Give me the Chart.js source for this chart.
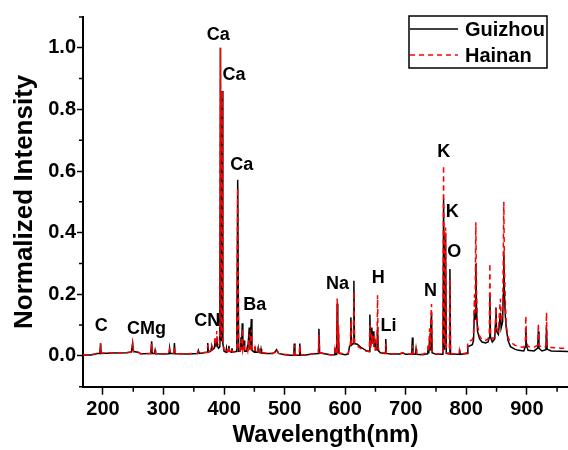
<!DOCTYPE html>
<html>
<head>
<meta charset="utf-8">
<script src="https://cdn.jsdelivr.net/npm/chart.js@4.4.1/dist/chart.umd.min.js"></script>
<style>
  html, body { margin: 0; padding: 0; background: #fff; }
  #wrap { width: 568px; height: 450px; }
</style>
</head>
<body>
<div id="wrap"><canvas id="myChart"></canvas></div>
<script>
// wavelength (nm) and normalized intensity
const wavelengths = [
  167, 180, 186, 190, 195, 196, 197, 215, 240, 247, 249, 250.5, 258, 262,
  279, 280.4, 281.5, 285, 286, 287, 300, 309, 310, 311, 317, 318, 319, 340,
  356, 357.5, 359, 372, 373, 374, 378, 379.5, 381, 384, 385.5, 386.5, 388, 389.5, 391, 393,
  394, 395, 396, 397, 398, 400, 403, 404, 405, 407, 408, 409, 412, 413, 414,
  421, 422.5, 424, 427, 428, 429, 430, 431, 433, 434, 437, 438, 439, 441.6, 442.6,
  445, 446, 450, 451, 452, 455.5, 456.5, 457.5, 460, 461, 462, 468, 480, 484, 486.7, 490,
  500, 510, 515, 516, 517, 524, 525, 526, 535, 545, 550, 555.5, 556.6, 557.8,
  575, 582, 583, 584, 586, 586.8, 587.8, 588.8, 589.8, 600, 605, 607, 608.5,
  609.4, 610.4, 613.5, 614.4, 615.4, 620, 626, 634, 639.8, 640.8, 641.8, 643, 644, 645,
  646.4, 647.4, 649, 650, 652.5, 653.5, 654.5, 658, 666, 667, 668, 675, 690, 695, 700,
  710, 711, 712, 716, 717, 718, 728, 733, 736, 737, 738, 739.5, 740.5, 741.5, 742.6, 743.6,
  750, 761.5, 762.5, 764, 765.8, 767, 772, 773, 774, 780, 788, 789, 790,
  801.5, 802.6, 806, 810, 812, 813.5, 814.5, 815.8, 817, 818.5, 822, 826, 832, 836,
  838, 839, 840, 843, 847, 848, 849, 850, 853, 855, 856.4, 857.5, 860, 861, 862, 863,
  864.5, 866, 869, 873, 880, 886, 895, 897.5, 898.4, 899.4, 902, 912, 918, 919, 920,
  925, 931.5, 932.5, 933.5, 940, 955, 968
];
const guizhou = [
  0.003, 0.003, 0.005, 0.008, 0.008, 0.040, 0.008, 0.009, 0.010, 0.013, 0.040, 0.014, 0.012, 0.007,
  0.008, 0.047, 0.008, 0.008, 0.018, 0.007, 0.006, 0.007, 0.025, 0.008, 0.008, 0.042, 0.007, 0.006,
  0.008, 0.018, 0.008, 0.012, 0.042, 0.012, 0.015, 0.030, 0.020, 0.025, 0.055, 0.030, 0.050, 0.030, 0.025, 0.030,
  1.000, 0.050, 0.060, 0.860, 0.040, 0.015, 0.012, 0.025, 0.012, 0.015, 0.033, 0.015, 0.012, 0.025, 0.012,
  0.015, 0.572, 0.015, 0.016, 0.060, 0.020, 0.106, 0.020, 0.050, 0.015, 0.015, 0.025, 0.015, 0.092, 0.020,
  0.120, 0.018, 0.012, 0.030, 0.012, 0.012, 0.025, 0.011, 0.010, 0.022, 0.010, 0.008, 0.008, 0.012, 0.020, 0.008,
  0.004, 0.002, 0.002, 0.040, 0.002, 0.002, 0.040, 0.002, 0.003, 0.006, 0.007, 0.008, 0.088, 0.010,
  0.004, 0.004, 0.027, 0.004, 0.005, 0.170, 0.010, 0.090, 0.008, 0.004, 0.006, 0.030, 0.035,
  0.125, 0.035, 0.040, 0.244, 0.040, 0.038, 0.028, 0.018, 0.014, 0.134, 0.030, 0.050, 0.092, 0.040,
  0.080, 0.030, 0.055, 0.020, 0.020, 0.095, 0.018, 0.010, 0.008, 0.055, 0.008, 0.006, 0.006, 0.009, 0.005,
  0.005, 0.060, 0.005, 0.005, 0.022, 0.005, 0.004, 0.006, 0.006, 0.020, 0.008, 0.060, 0.020, 0.100, 0.141, 0.010,
  0.005, 0.005, 0.510, 0.020, 0.400, 0.008, 0.006, 0.282, 0.006, 0.005, 0.005, 0.020, 0.005,
  0.008, 0.030, 0.033, 0.036, 0.050, 0.150, 0.120, 0.298, 0.150, 0.080, 0.055, 0.045, 0.042, 0.045,
  0.060, 0.200, 0.060, 0.045, 0.055, 0.100, 0.157, 0.080, 0.070, 0.110, 0.140, 0.090, 0.110, 0.200, 0.340, 0.200,
  0.130, 0.090, 0.050, 0.030, 0.022, 0.018, 0.016, 0.030, 0.092, 0.035, 0.018, 0.016, 0.025, 0.080, 0.025,
  0.016, 0.020, 0.092, 0.022, 0.016, 0.015, 0.014
];
const hainan = [
  0.004, 0.004, 0.006, 0.008, 0.009, 0.042, 0.009, 0.009, 0.011, 0.013, 0.042, 0.014, 0.012, 0.007,
  0.008, 0.040, 0.008, 0.008, 0.014, 0.007, 0.007, 0.007, 0.020, 0.008, 0.008, 0.030, 0.007, 0.007,
  0.008, 0.015, 0.009, 0.012, 0.035, 0.012, 0.018, 0.035, 0.025, 0.040, 0.060, 0.045, 0.081, 0.045, 0.035, 0.040,
  1.000, 0.060, 0.080, 0.860, 0.050, 0.020, 0.013, 0.020, 0.013, 0.015, 0.030, 0.015, 0.013, 0.022, 0.012,
  0.015, 0.544, 0.015, 0.018, 0.050, 0.020, 0.090, 0.020, 0.040, 0.016, 0.016, 0.022, 0.015, 0.070, 0.018,
  0.085, 0.018, 0.014, 0.025, 0.012, 0.012, 0.030, 0.012, 0.012, 0.020, 0.010, 0.009, 0.008, 0.012, 0.022, 0.008,
  0.005, 0.003, 0.003, 0.035, 0.003, 0.003, 0.035, 0.003, 0.004, 0.006, 0.008, 0.008, 0.068, 0.010,
  0.004, 0.004, 0.020, 0.004, 0.006, 0.186, 0.012, 0.100, 0.010, 0.005, 0.008, 0.030, 0.035,
  0.115, 0.035, 0.040, 0.210, 0.038, 0.032, 0.024, 0.016, 0.014, 0.100, 0.025, 0.045, 0.070, 0.040,
  0.065, 0.030, 0.050, 0.020, 0.025, 0.197, 0.025, 0.012, 0.009, 0.040, 0.009, 0.007, 0.007, 0.011, 0.006,
  0.006, 0.035, 0.006, 0.006, 0.018, 0.006, 0.005, 0.010, 0.010, 0.040, 0.012, 0.090, 0.030, 0.120, 0.168, 0.012,
  0.006, 0.006, 0.618, 0.030, 0.417, 0.010, 0.008, 0.250, 0.008, 0.006, 0.006, 0.018, 0.006,
  0.010, 0.045, 0.049, 0.052, 0.070, 0.200, 0.140, 0.434, 0.200, 0.100, 0.065, 0.052, 0.050, 0.055,
  0.075, 0.300, 0.075, 0.055, 0.060, 0.110, 0.157, 0.090, 0.080, 0.150, 0.185, 0.110, 0.140, 0.300, 0.500, 0.280,
  0.180, 0.100, 0.060, 0.045, 0.035, 0.030, 0.028, 0.045, 0.130, 0.050, 0.030, 0.028, 0.035, 0.105, 0.035,
  0.027, 0.030, 0.141, 0.035, 0.027, 0.025, 0.024
];

// axis ticks
const xMajor = [200, 300, 400, 500, 600, 700, 800, 900];
const xMinor = [250, 350, 450, 550, 650, 750, 850, 950];
const yMajor = [0.0, 0.2, 0.4, 0.6, 0.8, 1.0];
const yMinor = [-0.1, 0.1, 0.3, 0.5, 0.7, 0.9, 1.1];

// element labels: [text, wavelength, intensity]
const peakLabels = [
  ['C', 197, 0.098], ['CMg', 272, 0.088], ['CN', 372, 0.114],
  ['Ca', 390.5, 1.042], ['Ca', 416.5, 0.912], ['Ca', 429, 0.62],
  ['Ba', 450.5, 0.164], ['Na', 587.5, 0.233], ['H', 654.5, 0.252],
  ['Li', 671.5, 0.098], ['N', 741, 0.211], ['K', 763, 0.661],
  ['K', 777, 0.466], ['O', 780, 0.336]
];

Chart.defaults.font.family = '"Liberation Sans", Arial, sans-serif';
Chart.defaults.color = '#000';

const isMajorY = v => yMajor.some(m => Math.abs(m - v) < 1e-6);

const extras = {
  id: 'extras',
  afterDraw(chart) {
    const c = chart.ctx;
    const xs = chart.scales.x, ys = chart.scales.y;
    const area = chart.chartArea;
    c.save();
    // minor ticks
    c.strokeStyle = '#000';
    c.lineWidth = 1.5;
    c.beginPath();
    xMinor.forEach(v => {
      const px = xs.getPixelForValue(v);
      c.moveTo(px, area.bottom);
      c.lineTo(px, area.bottom + 5);
    });
    yMinor.forEach(v => {
      const py = ys.getPixelForValue(v);
      c.moveTo(area.left, py);
      c.lineTo(area.left - 4, py);
    });
    c.stroke();

    // element labels
    c.font = 'bold 18px "Liberation Sans", Arial, sans-serif';
    c.fillStyle = '#000';
    c.textAlign = 'center';
    c.textBaseline = 'middle';
    peakLabels.forEach(p => {
      c.fillText(p[0], xs.getPixelForValue(p[1]), ys.getPixelForValue(p[2]));
    });

    // legend box
    const bx = 409, by = 16, bw = 138, bh = 52;
    c.fillStyle = '#fff';
    c.fillRect(bx, by, bw, bh);
    c.strokeStyle = '#000';
    c.lineWidth = 1.5;
    c.strokeRect(bx, by, bw, bh);
    const rows = [['Guizhou', '#000', []], ['Hainan', '#ff0000', [5, 4]]];
    rows.forEach((r, i) => {
      const ly = by + 13 + i * 26;
      c.beginPath();
      c.setLineDash(r[2]);
      c.strokeStyle = r[1];
      c.lineWidth = 1.5;
      c.moveTo(bx + 1, ly);
      c.lineTo(bx + 49, ly);
      c.stroke();
      c.setLineDash([]);
      c.fillStyle = '#000';
      c.textAlign = 'left';
      c.font = 'bold 20px "Liberation Sans", Arial, sans-serif';
      c.fillText(r[0], bx + 56, ly + 1);
    });
    c.restore();
  }
};

const ctx = document.getElementById('myChart');
new Chart(ctx, {
  type: 'line',
  data: {
    datasets: [
      {
        label: 'Hainan',
        data: wavelengths.map((w, i) => ({x: w, y: hainan[i]})),
        borderColor: '#ff0000',
        borderWidth: 1.5,
        borderDash: [5, 4],
        pointRadius: 0,
        fill: false,
        tension: 0,
        order: 0
      },
      {
        label: 'Guizhou',
        data: wavelengths.map((w, i) => ({x: w, y: guizhou[i]})),
        borderColor: '#000000',
        borderWidth: 1.5,
        pointRadius: 0,
        fill: false,
        tension: 0,
        order: 1
      }
    ]
  },
  options: {
    responsive: true,
    maintainAspectRatio: false,
    animation: false,
    layout: { padding: { top: 17, right: 0, left: 0, bottom: 0 } },
    plugins: {
      legend: { display: false },
      tooltip: { enabled: false }
    },
    scales: {
      x: {
        type: 'linear',
        min: 167,
        max: 968,
        afterBuildTicks: s => { s.ticks = xMajor.map(v => ({value: v})); },
        afterFit: s => { s.height = 63.3; },
        ticks: {
          autoSkip: false,
          maxRotation: 0,
          padding: 3,
          font: { size: 20, weight: 'bold' },
          color: '#000'
        },
        grid: { drawOnChartArea: false, tickLength: 8, tickWidth: 1.5, tickColor: '#000' },
        border: { color: '#000', width: 2 },
        title: {
          display: true,
          text: 'Wavelength(nm)',
          font: { size: 24, weight: 'bold' },
          color: '#000',
          padding: 0
        }
      },
      y: {
        min: -0.1,
        max: 1.1,
        afterBuildTicks: s => { s.ticks = yMajor.map(v => ({value: v})); },
        afterFit: s => { s.width = 83; },
        ticks: {
          autoSkip: false,
          padding: 1,
          font: { size: 20, weight: 'bold' },
          color: '#000',
          callback: v => isMajorY(v) ? v.toFixed(1) : ''
        },
        grid: { drawOnChartArea: false, tickLength: 6, tickWidth: 1.5, tickColor: '#000' },
        border: { color: '#000', width: 2 },
        title: {
          display: true,
          text: 'Normalized Intensity',
          font: { size: 26, weight: 'bold' },
          color: '#000',
          padding: { top: 9, bottom: 0 }
        }
      }
    }
  },
  plugins: [extras]
});
</script>
</body>
</html>
